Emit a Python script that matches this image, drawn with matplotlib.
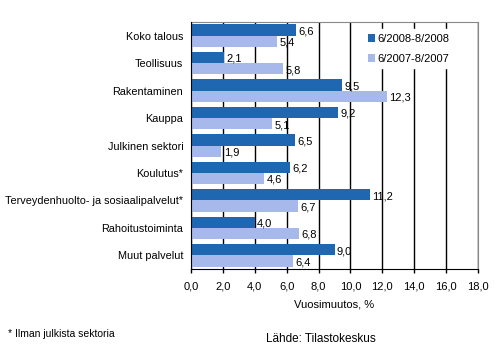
import numpy as np
import matplotlib

matplotlib.use('Agg')
import matplotlib.pyplot as plt

plt.rcParams['font.family'] = ['Liberation Sans', 'DejaVu Sans']

# data
categories = ['Koko talous', 'Teollisuus', 'Rakentaminen', 'Kauppa',
              'Julkinen sektori', 'Koulutus*',
              'Terveydenhuolto- ja sosiaalipalvelut*', 'Rahoitustoiminta',
              'Muut palvelut']
series_2008 = [6.6, 2.1, 9.5, 9.2, 6.5, 6.2, 11.2, 4.0, 9.0]
series_2007 = [5.4, 5.8, 12.3, 5.1, 1.9, 4.6, 6.7, 6.8, 6.4]
series_names = ['6/2008-8/2008', '6/2007-8/2007']
x_ticks = [0, 2, 4, 6, 8, 10, 12, 14, 16, 18]

DARK = '#1f68b1'
LIGHT = '#a6b9ea'

fig = plt.figure(figsize=(4.95, 3.61), dpi=100)
ax = fig.add_axes([191 / 495, 1 - 269 / 361, (478 - 191) / 495, (269 - 22) / 361])

y = np.arange(len(categories))
h = 0.41
ax.barh(y - h / 2, series_2008, height=h, color=DARK, label=series_names[0], zorder=3)
ax.barh(y + h / 2, series_2007, height=h, color=LIGHT, label=series_names[1], zorder=3)

fmt = lambda v: f'{v:.1f}'.replace('.', ',')
for yi, v in zip(y, series_2008):
    ax.text(v + 0.15, yi - h / 2 + 0.05, fmt(v), va='center', ha='left', fontsize=8, zorder=4)
for yi, v in zip(y, series_2007):
    ax.text(v + 0.15, yi + h / 2 + 0.05, fmt(v), va='center', ha='left', fontsize=8, zorder=4)

ax.set_ylim(len(categories) - 0.5, -0.5)
ax.set_yticks(y)
ax.set_yticklabels(categories, fontsize=7.8)
ax.tick_params(axis='y', length=0, pad=5.5)

ax.set_xlim(0, 18)
ax.set_xticks(x_ticks)
ax.set_xticklabels([fmt(t) for t in x_ticks], fontsize=8)
ax.tick_params(axis='x', direction='out', length=3, width=1, color='black', pad=6)
ax.set_xlabel('Vuosimuutos, %', fontsize=8, labelpad=6)

ax.grid(axis='x', color='black', linewidth=1, zorder=0)
for side in ('top', 'right'):
    ax.spines[side].set_color('#888888')
for side in ('left', 'bottom'):
    ax.spines[side].set_color('black')
    ax.spines[side].set_zorder(5)

leg = ax.legend(loc='upper left', bbox_to_anchor=(0.6, 0.97), frameon=True,
                fontsize=8, handlelength=0.7, handleheight=0.7,
                handletextpad=0.2, labelspacing=0.9, borderaxespad=0)
leg.get_frame().set_edgecolor('white')
leg.get_frame().set_facecolor('white')
leg.get_frame().set_alpha(1)
leg.set_zorder(6)

fig.text(8 / 495, 1 - 334 / 361, '* Ilman julkista sektoria', fontsize=7.5, va='center')
fig.text(321 / 495, 1 - 339 / 361, 'Lähde: Tilastokeskus', fontsize=8.5, va='center', ha='center')

fig.savefig('out.png', dpi=100)
